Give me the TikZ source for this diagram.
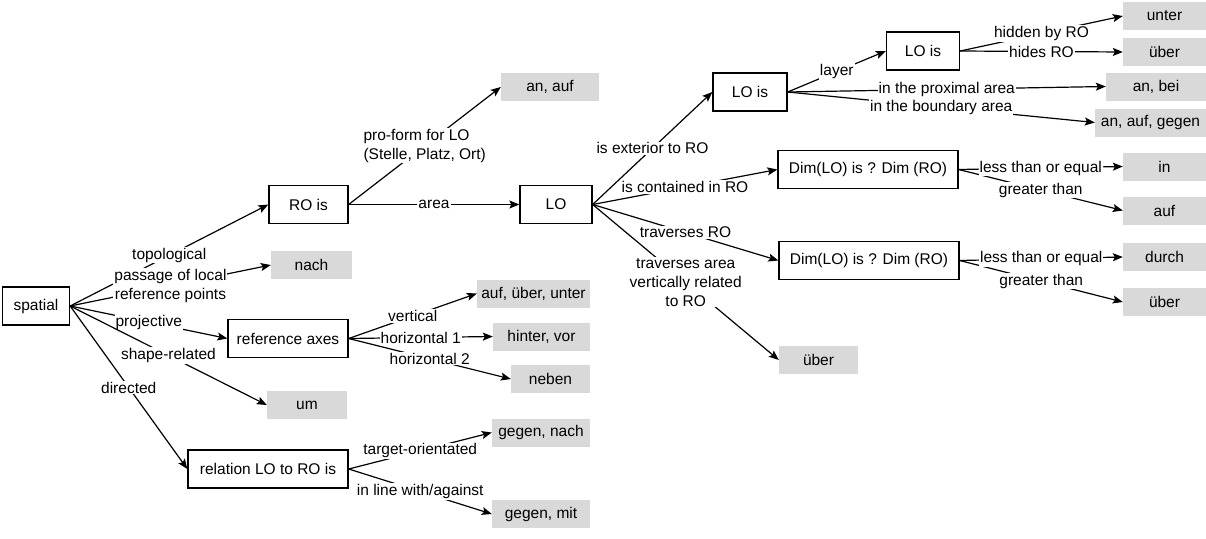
\documentclass[tikz,border=0pt]{standalone}
\usepackage{fontspec}
\setmainfont{Liberation Sans}
\usetikzlibrary{arrows.meta}

\definecolor{wordfill}{RGB}{217,217,217}

\begin{document}
\begin{tikzpicture}[
  x=1pt, y=-1pt,
  font=\fontsize{15.5}{19}\selectfont,
  concept/.style={rectangle, draw=black, line width=1.3pt, fill=white, minimum height=38pt, inner sep=0pt, align=center},
  word/.style={rectangle, fill=wordfill, minimum height=28pt, inner sep=0pt, align=center},
  arr/.style={-{Stealth[length=10pt, width=8pt, inset=2pt]}, line width=1.2pt, draw=black},
  lbl/.style={fill=white, inner sep=1pt, align=center}
]
\useasboundingbox (0,0) rectangle (1206,538);

\node[concept, minimum width=67pt] (spatial) at (36, 306) {spatial};
\node[concept, minimum width=79pt] (roIs) at (308.5, 204.5) {RO is};
\node[concept, minimum width=120pt] (refAxes) at (288, 338.5) {reference axes};
\node[concept, minimum width=160pt] (relation) at (268, 469) {relation LO to RO is};
\node[concept, minimum width=72pt] (lo) at (556, 204.5) {LO};
\node[concept, minimum width=74pt] (loIs) at (750, 92) {LO is};
\node[concept, minimum width=73pt] (loIsLayer) at (923, 51) {LO is};
\node[concept, minimum width=180pt] (dimContained) at (868, 169.5) {Dim(LO) is ? Dim (RO)};
\node[concept, minimum width=180pt] (dimTraverses) at (869, 260.5) {Dim(LO) is ? Dim (RO)};

\node[word, minimum width=98pt] (wAnAuf) at (550, 87) {an, auf};
\node[word, minimum width=81pt] (wNach) at (311.5, 265) {nach};
\node[word, minimum width=113pt] (wAufUeberUnter) at (533.5, 293.5) {auf, über, unter};
\node[word, minimum width=97pt] (wHinterVor) at (541.5, 336.5) {hinter, vor};
\node[word, minimum width=79pt] (wNeben) at (550.5, 379) {neben};
\node[word, minimum width=80pt] (wUm) at (307, 405) {um};
\node[word, minimum width=98pt] (wGegenNach) at (541, 432.5) {gegen, nach};
\node[word, minimum width=98pt] (wGegenMit) at (541, 514) {gegen, mit};
\node[word, minimum width=83pt] (wUnter) at (1164.5, 16) {unter};
\node[word, minimum width=83pt] (wUeberHides) at (1164.5, 52) {über};
\node[word, minimum width=100pt] (wAnBei) at (1156, 86.5) {an, bei};
\node[word, minimum width=111pt] (wAnAufGegen) at (1150.5, 122.5) {an, auf, gegen};
\node[word, minimum width=83pt] (wIn) at (1164.5, 166.5) {in};
\node[word, minimum width=83pt] (wAuf) at (1164.5, 210.5) {auf};
\node[word, minimum width=83pt] (wDurch) at (1164.5, 257) {durch};
\node[word, minimum width=83pt] (wUeberGreater) at (1164.5, 302) {über};
\node[word, minimum width=79pt] (wUeberVert) at (818.5, 360) {über};

\draw[arr] (spatial.east) -- node[lbl] {topological} (roIs.west);
\draw[arr] (spatial.east) -- node[lbl] {passage of local\\reference points} (wNach.west);
\draw[arr] (spatial.east) -- node[lbl] {projective} (refAxes.west);
\draw[arr] (spatial.east) -- node[lbl] {shape-related} (wUm.west);
\draw[arr] (spatial.east) -- node[lbl] {directed} (relation.west);

\draw[arr] (roIs.east) -- node[lbl, align=left] {pro-form for LO\\(Stelle, Platz, Ort)} (wAnAuf.west);
\draw[arr] (roIs.east) -- node[lbl] {area} (lo.west);

\draw[arr] (refAxes.east) -- node[lbl] {vertical} (wAufUeberUnter.west);
\draw[arr] (refAxes.east) -- node[lbl] {horizontal 2} (wNeben.west);
\draw[arr] (refAxes.east) -- node[lbl] {horizontal 1} (wHinterVor.west);

\draw[arr] (relation.east) -- node[lbl] {target-orientated} (wGegenNach.west);
\draw[arr] (relation.east) -- node[lbl] {in line with/against} (wGegenMit.west);

\draw[arr] (lo.east) -- node[lbl] {is exterior to RO} (loIs.west);
\draw[arr] (lo.east) -- node[lbl] {is contained in RO} (dimContained.west);
\draw[arr] (lo.east) -- node[lbl] {traverses RO} (dimTraverses.west);
\draw[arr] (lo.east) -- node[lbl] {traverses area\\vertically related\\to RO} (wUeberVert.west);

\draw[arr] (loIs.east) -- node[lbl] {layer} (loIsLayer.west);
\draw[arr] (loIs.east) -- node[lbl] {in the boundary area} (wAnAufGegen.west);
\draw[arr] (loIs.east) -- node[lbl] {in the proximal area} (wAnBei.west);

\draw[arr] (loIsLayer.east) -- node[lbl] {hidden by RO} (wUnter.west);
\draw[arr] (loIsLayer.east) -- node[lbl] {hides RO} (wUeberHides.west);

\draw[arr] (dimContained.east) -- node[lbl] {greater than} (wAuf.west);
\draw[arr] (dimContained.east) -- node[lbl] {less than or equal} (wIn.west);
\draw[arr] (dimTraverses.east) -- node[lbl] {greater than} (wUeberGreater.west);
\draw[arr] (dimTraverses.east) -- node[lbl] {less than or equal} (wDurch.west);

\end{tikzpicture}
\end{document}
